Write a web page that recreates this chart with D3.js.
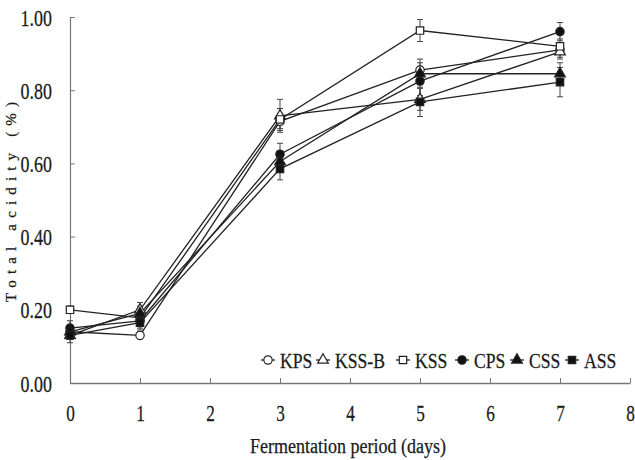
<!DOCTYPE html>
<html>
<head>
<meta charset="utf-8">
<script src="https://cdn.jsdelivr.net/npm/d3@7"></script>
<style>
  body { margin: 0; background: #fff; }
  text { font-family: "Liberation Serif", serif; fill: #1a1a1a; stroke: #1a1a1a; stroke-width: 0.25px; }
</style>
</head>
<body>
<div id="container"></div>
<script>
/* CONSTANTS AND GLOBALS */
const width = 635,
  height = 460,
  margin = { top: 17, bottom: 77, left: 70, right: 5 };

// days on the x axis
const days = [0, 1, 3, 5, 7];
const xTicks = [0, 1, 2, 3, 4, 5, 6, 7, 8];
const yTicks = [0, 0.2, 0.4, 0.6, 0.8, 1.0];

// series (total acidity %)
const names = ["KPS", "KSS-B", "KSS", "CPS", "CSS", "ASS"];
const kps  = [0.14, 0.13, 0.715, 0.855, 0.91];
const kssb = [0.13, 0.20, 0.73, 0.775, 0.905];
const kss  = [0.20, 0.178, 0.72, 0.963, 0.92];
const cps  = [0.15, 0.17, 0.625, 0.825, 0.96];
const css  = [0.14, 0.19, 0.605, 0.845, 0.845];
const ass  = [0.13, 0.165, 0.585, 0.768, 0.822];
// error bars (+/-)
const errKps  = [0.01, 0.01, 0.02, 0.03, 0.02];
const errKssb = [0.01, 0.02, 0.045, 0.03, 0.02];
const errKss  = [0.01, 0.01, 0.03, 0.03, 0.02];
const errCps  = [0.02, 0.02, 0.03, 0.04, 0.025];
const errCss  = [0.02, 0.02, 0.03, 0.03, 0.03];
const errAss  = [0.02, 0.02, 0.03, 0.04, 0.04];

const series = [
  { name: names[0], values: kps,  err: errKps,  shape: "circle",   open: true },
  { name: names[1], values: kssb, err: errKssb, shape: "triangle", open: true },
  { name: names[2], values: kss,  err: errKss,  shape: "square",   open: true },
  { name: names[3], values: cps,  err: errCps,  shape: "circle",   open: false },
  { name: names[4], values: css,  err: errCss,  shape: "triangle", open: false },
  { name: names[5], values: ass,  err: errAss,  shape: "square",   open: false }
];

// SCALES
const xScale = d3.scaleLinear().domain([0, 8]).range([margin.left, width - margin.right]);
const yScale = d3.scaleLinear().domain([0, 1]).range([height - margin.bottom, margin.top]);

const svg = d3.select("#container").append("svg")
  .attr("width", width).attr("height", height);

// AXES
const xAxis = d3.axisBottom(xScale).tickValues(xTicks).tickFormat(d3.format("d"))
  .tickSizeInner(-5).tickSizeOuter(0);
const gx = svg.append("g")
  .attr("transform", `translate(0, ${yScale(0)})`)
  .call(xAxis);
gx.select(".domain").attr("stroke", "#777").attr("stroke-width", 1.5);
gx.selectAll(".tick line").attr("stroke", "#777");
gx.selectAll(".tick").filter(d => d === 0).select("line").remove();
gx.selectAll(".tick text")
  .attr("y", 0).attr("dy", null)
  .attr("transform", "translate(0, 38) scale(0.75, 1)")
  .style("font-size", "23px");

const yAxis = d3.axisLeft(yScale).tickValues(yTicks).tickFormat(d3.format(".2f"))
  .tickSizeInner(-5).tickSizeOuter(0);
const gy = svg.append("g")
  .attr("transform", `translate(${margin.left}, 0)`)
  .call(yAxis);
gy.select(".domain").attr("stroke", "#777").attr("stroke-width", 1.2);
gy.selectAll(".tick line").attr("stroke", "#777");
gy.selectAll(".tick text")
  .attr("x", 0).attr("dy", "0.35em")
  .attr("transform", "translate(-18, 0) scale(0.78, 1)")
  .style("font-size", "23px");

// AXIS TITLES
svg.append("text")
  .attr("x", 250).attr("y", 453)
  .attr("textLength", 196).attr("lengthAdjust", "spacingAndGlyphs")
  .style("font-size", "20px")
  .text("Fermentation period (days)");

svg.append("text")
  .attr("transform", "translate(16, 302) rotate(-90)")
  .attr("textLength", 200).attr("lengthAdjust", "spacing")
  .style("font-size", "15px")
  .text("Total acidity (%)");

// SYMBOLS
const symbolType = { circle: d3.symbolCircle, triangle: d3.symbolTriangle, square: d3.symbolSquare };
const symbolSize = { circle: 55, triangle: 50, square: 55 };
function drawMarker(g, s) {
  g.append("path")
    .attr("d", d3.symbol(symbolType[s.shape], symbolSize[s.shape])())
    .attr("fill", s.open ? "#fff" : "#111")
    .attr("stroke", "#222")
    .attr("stroke-width", 1.2);
}

// LINES
const drawLine = d3.line()
  .x((d, i) => xScale(days[i]))
  .y(d => yScale(d));

svg.selectAll(".series-line")
  .data(series)
  .join("path")
  .attr("class", "series-line")
  .attr("fill", "none")
  .attr("stroke", "#222")
  .attr("stroke-width", 1.3)
  .attr("d", d => drawLine(d.values));

// ERROR BARS
series.forEach(s => {
  const g = svg.append("g").attr("class", "err");
  s.values.forEach((v, i) => {
    const x = xScale(days[i]);
    const y1 = yScale(v + s.err[i]), y2 = yScale(v - s.err[i]);
    g.append("line").attr("x1", x).attr("x2", x).attr("y1", y1).attr("y2", y2)
      .attr("stroke", "#444").attr("stroke-width", 1);
    [y1, y2].forEach(y => g.append("line")
      .attr("x1", x - 3).attr("x2", x + 3).attr("y1", y).attr("y2", y)
      .attr("stroke", "#444").attr("stroke-width", 1));
  });
});

// MARKERS
series.forEach(s => {
  s.values.forEach((v, i) => {
    const g = svg.append("g")
      .attr("transform", `translate(${xScale(days[i])}, ${yScale(v)})`);
    drawMarker(g, s);
  });
});

// LEGEND
const legendX = [268, 323, 403, 462, 517, 572];
const legend = svg.append("g").attr("class", "legend");
series.forEach((s, i) => {
  const g = legend.append("g").attr("transform", `translate(${legendX[i]}, 360)`);
  g.append("line").attr("x1", -7).attr("x2", 7).attr("stroke", "#222").attr("stroke-width", 1.3);
  drawMarker(g, s);
  g.append("text")
    .attr("transform", "translate(12, 8) scale(0.84, 1)")
    .style("font-size", "21px")
    .text(s.name);
});
</script>
</body>
</html>
